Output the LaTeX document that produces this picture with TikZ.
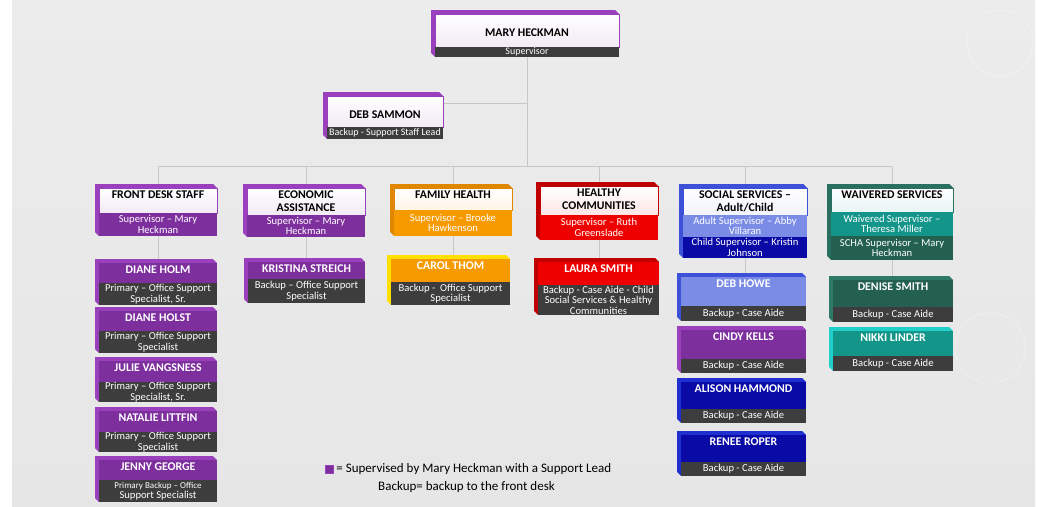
\documentclass[tikz,border=0pt]{standalone}
\usepackage{fontspec}
\setmainfont{Carlito}
\usetikzlibrary{positioning,backgrounds}
\definecolor{bgtop}{HTML}{ECECEC}
\definecolor{bgbot}{HTML}{E6E6E6}
\definecolor{bar}{HTML}{3D3D3D}
\definecolor{hpurple}{HTML}{7E2F9E}
\definecolor{hpurpleE}{HTML}{9A40BC}
\definecolor{horange}{HTML}{F79A00}
\definecolor{horangeE}{HTML}{E08600}
\colorlet{hcarol}{horange}
\definecolor{hcarolE}{HTML}{FFE000}
\definecolor{hred}{HTML}{EE0000}
\definecolor{hredE}{HTML}{C00000}
\definecolor{hlblue}{HTML}{7B8CE6}
\definecolor{hlblueE}{HTML}{3C50D8}
\definecolor{hdblue}{HTML}{0A0AA6}
\definecolor{hdblueE}{HTML}{2030D0}
\definecolor{hgreen}{HTML}{23604F}
\definecolor{hgreenE}{HTML}{2E7A66}
\definecolor{hteal}{HTML}{14958A}
\definecolor{htealE}{HTML}{20D0C8}
\colorlet{hws}{hteal}
\definecolor{hwsE}{HTML}{2A7060}
% bevel face on the top and left side of a box
\newcommand\bevel[5]{\fill[#5] (#1,#4) -- ++(-4,-4) -- ({#1-4},{#3-4}) -- ({#2-4},{#3-4}) -- (#2,#3) -- (#1,#3) -- cycle;}
% \dept{id}{x0}{x1}{y0}{ysplit}{y1}{colour}{heading}{supervisor}
\newcommand\dept[9]{%
\bevel{#2}{#3}{#4}{#6}{#7E}
\node[hdr=#7, minimum width={(#3-#2)*1pt}, minimum height={(#5-#4)*1pt}] (#1) at ({(#2+#3)/2},#4) {};
\node[htxt] (#1-t) at ([yshift=-3pt]#1.north) {#8};
\node[sub, fill=#7, minimum width={(#3-#2)*1pt}, minimum height={(#6-#5)*1pt}] (#1-s) at (#1.south) {#9};}
% \member{id}{x0}{x1}{y0}{ysplit}{y1}{colour}{name}{role}
\newcommand\member[9]{%
\bevel{#2}{#3}{#4}{#6}{#7E}
\node[mbox, fill=#7, minimum width={(#3-#2)*1pt}, minimum height={(#5-#4)*1pt}] (#1) at ({(#2+#3)/2},#4) {};
\node[mtxt] (#1-t) at ([yshift=-3pt]#1.north) {#8};
\node[rbox, minimum width={(#3-#2)*1pt}, minimum height={(#6-#5)*1pt}] (#1-r) at (#1.south) {#9};}

\begin{document}
\begin{tikzpicture}[x=1pt,y=-1pt,
  hdr/.style={rectangle, anchor=north, inner sep=0pt, outer sep=0pt, draw=#1E, line width=0.8pt, top color=white, bottom color=#1!10},
  htxt/.style={anchor=north, align=center, inner sep=0pt, font=\fontsize{11.8}{12.8}\selectfont\bfseries},
  sub/.style={rectangle, anchor=north, inner sep=0pt, outer sep=0pt, align=center, text=white, font=\fontsize{10.6}{10.5}\selectfont},
  mbox/.style={rectangle, anchor=north, inner sep=0pt, outer sep=0pt},
  mtxt/.style={anchor=north, align=center, inner sep=0pt, text=white, font=\fontsize{11.8}{12.8}\selectfont\bfseries},
  rbox/.style={sub, fill=bar},
  conn/.style={draw=black!22, line width=0.9pt},
  keytxt/.style={inner sep=0pt, font=\fontsize{13}{15}\selectfont}]
\useasboundingbox (0,0) rectangle (1038,506);
\begin{scope}[on background layer]
\fill[white] (0,0) rectangle (1038,506);
\shade[top color=bgtop, bottom color=bgbot] (12,0) rectangle (1035,506);
\draw[white, line width=0.8pt, opacity=0.35] (1000,43) circle[radius=33] (990,348) circle[radius=35];
\end{scope}

\bevel{435}{619}{14}{57}{hpurpleE}
\node[hdr=hpurple, minimum width=184pt, minimum height=33pt] (mary) at (527,14) {};
\node[htxt, anchor=center] (mary-t) at ([yshift=-2.5pt]mary.center) {MARY HECKMAN};
\node[rbox, minimum width=184pt, minimum height=10pt, font=\fontsize{10}{10}\selectfont] (mary-r) at (mary.south) {Supervisor};

\bevel{327}{443}{96}{139}{hpurpleE}
\node[hdr=hpurple, minimum width=116pt, minimum height=31pt] (deb) at (385,96) {};
\node[htxt, anchor=center] (deb-t) at ([yshift=-3.5pt]deb.center) {DEB SAMMON};
\node[rbox, minimum width=116pt, minimum height=12pt, font=\fontsize{10}{10}\selectfont] (deb-r) at (deb.south) {Backup - Support Staff Lead};

\dept{fds}{99}{217}{188}{213}{236}{hpurple}{FRONT DESK STAFF}{Supervisor – Mary\\Heckman}
\dept{ea}{247}{365}{188}{215}{237}{hpurple}{ECONOMIC\\ASSISTANCE}{Supervisor – Mary\\Heckman}
\dept{fh}{394}{512}{188}{210}{236}{horange}{FAMILY HEALTH}{Supervisor – Brooke\\Hawkenson}
\dept{hc}{540}{658}{186}{215}{240}{hred}{HEALTHY\\COMMUNITIES}{Supervisor – Ruth\\Greenslade}
\bevel{683}{807}{188}{258}{hlblueE}
\dept{ss}{683}{807}{188}{215}{237}{hlblue}{SOCIAL SERVICES –\\Adult/Child}{Adult Supervisor – Abby\\Villaran}
\node[sub, fill=hdblue, minimum width=124pt, minimum height=21pt] (ss-s2) at (ss-s.south) {Child Supervisor – Kristin\\Johnson};
\bevel{831}{953}{188}{260}{hwsE}
\dept{ws}{831}{953}{188}{212}{236}{hws}{WAIVERED SERVICES}{Waivered Supervisor –\\Theresa Miller}
\node[sub, fill=hgreen, minimum width=122pt, minimum height=24pt] (ws-s2) at (ws-s.south) {SCHA Supervisor – Mary\\Heckman};

\member{dholm}{99}{217}{263}{283}{305}{hpurple}{DIANE HOLM}{Primary – Office Support\\Specialist, Sr.}
\member{dholst}{99}{217}{311}{331}{353}{hpurple}{DIANE HOLST}{Primary – Office Support\\Specialist}
\member{julie}{99}{217}{361}{382}{402}{hpurple}{JULIE VANGSNESS}{Primary – Office Support\\Specialist, Sr.}
\member{natalie}{99}{217}{411}{432}{452}{hpurple}{NATALIE LITTFIN}{Primary – Office Support\\Specialist}
\member{jenny}{99}{217}{460}{480}{502}{hpurple}{JENNY GEORGE}{\fontsize{9}{10}\selectfont Primary Backup – Office\\Support Specialist}
\member{kristina}{248}{365}{262}{279}{303}{hpurple}{KRISTINA STREICH}{Backup – Office Support\\Specialist}
\member{carol}{391}{510}{259}{282}{305}{hcarol}{CAROL THOM}{Backup -\ \ Office Support\\Specialist}
\member{laura}{538}{659}{262}{285}{315}{hred}{LAURA SMITH}{Backup - Case Aide - Child\\Social Services \& Healthy\\Communities}
\member{dhowe}{681}{806}{277}{306}{321}{hlblue}{DEB HOWE}{Backup - Case Aide}
\member{cindy}{681}{806}{330}{359}{373}{hpurple}{CINDY KELLS}{Backup - Case Aide}
\member{alison}{681}{806}{382}{409}{423}{hdblue}{ALISON HAMMOND}{Backup - Case Aide}
\member{renee}{681}{806}{435}{462}{476}{hdblue}{RENEE ROPER}{Backup - Case Aide}
\member{denise}{833}{953}{280}{307}{322}{hgreen}{DENISE SMITH}{Backup - Case Aide}
\member{nikki}{833}{953}{331}{356}{371}{hteal}{NIKKI LINDER}{Backup - Case Aide}

\node[fill=hpurple, draw=hpurpleE, minimum size=8pt, inner sep=0pt] (keysq) at (329,469.5) {};
\node[keytxt, right=3pt of keysq] (key1) {= Supervised by Mary Heckman with a Support Lead};
\node[keytxt] (key2) at (466.5,487) {Backup= backup to the front desk};

\begin{scope}[on background layer]
\coordinate (bus) at (527,166.5);
\coordinate (debj) at (527,103);
\draw[conn] (mary-r.south) -- (bus);
\draw[conn] (debj) -- (debj -| deb.east);
\draw[conn] (bus -| fds.north) -- (bus -| ws.north);
\foreach \d in {fds,ea,fh,hc,ss,ws}
  \draw[conn] (bus -| \d.north) -- (\d.north);
\draw[conn] (fds-s.south) -- (fds-s.south |- dholm.north);
\draw[conn] (ea-s.south) -- (ea-s.south |- kristina.north);
\draw[conn] (fh-s.south) -- (fh-s.south |- carol.north);
\draw[conn] (hc-s.south) -- (hc-s.south |- laura.north);
\draw[conn] (ss-s2.south) -- (ss-s2.south |- dhowe.north);
\draw[conn] (ws-s2.south) -- (ws-s2.south |- denise.north);
\end{scope}
\end{tikzpicture}
\end{document}
